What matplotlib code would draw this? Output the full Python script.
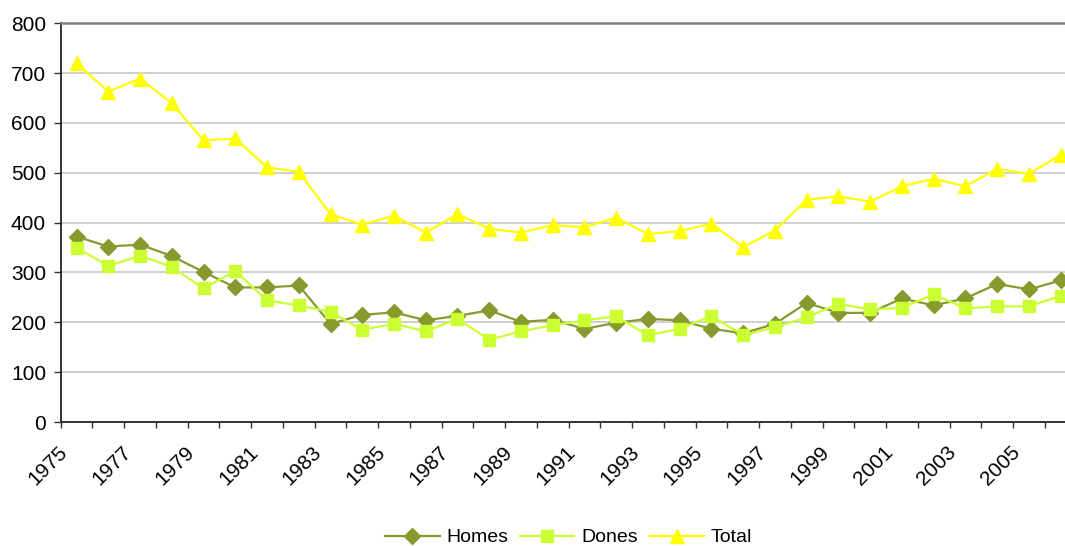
import matplotlib
matplotlib.use("Agg")
import matplotlib.pyplot as plt
import matplotlib.transforms as mtransforms
import numpy as np

years = list(range(1975, 2007))
homes = [372, 352, 356, 333, 301, 270, 270, 274, 197, 215, 220, 204, 213, 224, 201,
         205, 187, 199, 207, 204, 187, 178, 197, 239, 219, 219, 248, 234, 248, 277, 266, 284]
dones = [350, 313, 334, 311, 268, 303, 244, 234, 221, 185, 197, 182, 207, 165, 182,
         194, 204, 212, 174, 187, 213, 174, 190, 210, 237, 226, 229, 256, 228, 232, 232, 253]
total = [720, 663, 689, 640, 565, 569, 511, 502, 417, 396, 414, 380, 417, 388, 380,
         395, 391, 410, 377, 383, 398, 351, 384, 446, 453, 442, 473, 488, 473, 508, 498, 536]
yticks = [0, 100, 200, 300, 400, 500, 600, 700, 800]

plt.rcParams['font.family'] = ['Liberation Sans', 'DejaVu Sans']

W, H = 1065, 546
fig = plt.figure(figsize=(W / 100, H / 100), dpi=100)
left, right, top, bottom = 60.7, 1076.5, 23.3, 422.0
ax = fig.add_axes([left / W, 1 - bottom / H, (right - left) / W, (bottom - top) / H])

x = np.arange(len(years))
ax.plot(x, homes, color='#879A2E', marker='D', ms=8, lw=1.6, label='Homes', zorder=3)
ax.plot(x, dones, color='#CCFF33', marker='s', ms=8.2, lw=1.6, label='Dones', zorder=3)
ax.plot(x, total, color='#FFFF00', marker='^', ms=9.5, lw=1.6, label='Total', zorder=3)

ax.set_xlim(-0.5, len(years) - 0.5)
ax.set_ylim(0, 800)
ax.set_yticks(yticks)
ax.set_yticklabels([str(v) for v in yticks], fontsize=15)
ax.grid(axis='y', color='#C8C8C8', lw=1.2, zorder=0)
ax.set_axisbelow(True)

# category boundary ticks
ax.set_xticks(np.arange(len(years) + 1) - 0.5)
ax.set_xticklabels([])
ax.tick_params(axis='x', length=4.5, width=1, color='#333333', direction='out')
ax.tick_params(axis='y', length=5, width=1, color='#333333', direction='out', pad=5.5)

# labels every other year at category centres
offset = mtransforms.ScaledTranslation(-8 / 100, -31 / 100, fig.dpi_scale_trans)
trans = mtransforms.blended_transform_factory(ax.transData, ax.transAxes) + offset
for i, yr in enumerate(years):
    if i % 2 == 0:
        ax.text(i, 0, str(yr), transform=trans, rotation=45, rotation_mode='anchor',
                ha='right', va='baseline', fontsize=15)

ax.spines['right'].set_visible(False)
ax.spines['top'].set_color('#808080')
ax.spines['top'].set_linewidth(1.8)
ax.spines['left'].set_color('#111111')
ax.spines['left'].set_linewidth(1.2)
ax.spines['bottom'].set_color('#333333')
ax.spines['bottom'].set_linewidth(1.4)

ax.legend(loc='center', bbox_to_anchor=(0.5, -0.29), ncol=3, frameon=False,
          fontsize=14, handlelength=2.8, handletextpad=0.35, columnspacing=0.6)

fig.savefig('out.png', dpi=100)
